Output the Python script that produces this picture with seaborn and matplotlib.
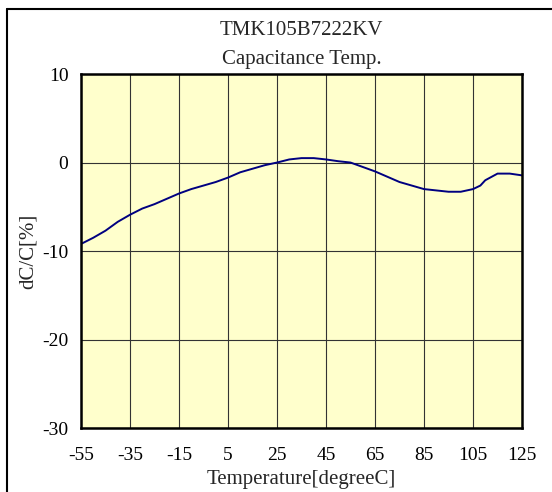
import numpy as np
import pandas as pd
import matplotlib
matplotlib.use("Agg")
import matplotlib.pyplot as plt
import seaborn as sns

# temperature [degC] and capacitance change dC/C [%]
temp = [-55, -50, -45, -40, -35, -30, -25, -20, -15, -10, -5, 0, 5, 10, 15, 20,
        25, 30, 35, 40, 45, 50, 55, 60, 65, 70, 75, 80, 85, 90, 95, 100,
        105, 108, 110, 115, 120, 125]
dcc = [-9.2, -8.5, -7.7, -6.7, -5.9, -5.2, -4.7, -4.1, -3.5, -3.0, -2.6, -2.2,
       -1.7, -1.1, -0.7, -0.3, 0.0, 0.35, 0.5, 0.5, 0.35, 0.15, 0.0, -0.5,
       -1.0, -1.6, -2.2, -2.6, -3.0, -3.15, -3.3, -3.3, -3.0, -2.6, -2.0,
       -1.25, -1.25, -1.45]
xticks = [-55, -35, -15, 5, 25, 45, 65, 85, 105, 125]
yticks = [-30, -20, -10, 0, 10]

df = pd.DataFrame({"temp": temp, "dcc": dcc})

sns.set_style("white")
plt.rcParams["font.family"] = ["Liberation Serif", "DejaVu Serif"]
plt.rcParams["axes.unicode_minus"] = False

fig = plt.figure(figsize=(5.52, 4.92), dpi=100)
ax = fig.add_axes([0.1467, 0.130, 0.799, 0.7195])
ax.set_facecolor("#ffffcc")

sns.lineplot(data=df, x="temp", y="dcc", ax=ax, color="#000080", linewidth=1.4)

ax.set_xlim(-55, 125)
ax.set_ylim(-30, 10)
ax.set_xticks(xticks)
ax.set_yticks(yticks)
ax.grid(True, color="#333333", linewidth=0.8)
for s in ax.spines.values():
    s.set_color("black")
    s.set_linewidth(1.8)
ax.tick_params(length=0, labelsize=14, colors="black")
ax.tick_params(axis="x", pad=14)
ax.tick_params(axis="y", pad=9)

ax.set_xlabel("Temperature[degreeC]", fontsize=15, labelpad=4)
ax.set_ylabel("dC/C[%]", fontsize=15, labelpad=3)
ax.set_title("TMK105B7222KV\nCapacitance Temp.", fontsize=15, pad=7, linespacing=1.75)

# outer frame lines (top and left)
fig.add_artist(plt.Line2D([7 / 552, 1], [1 - 9 / 492, 1 - 9 / 492], color="black", linewidth=1.5))
fig.add_artist(plt.Line2D([7 / 552, 7 / 552], [0, 1 - 9 / 492], color="black", linewidth=1.5))

plt.savefig("out.png", dpi=100)
